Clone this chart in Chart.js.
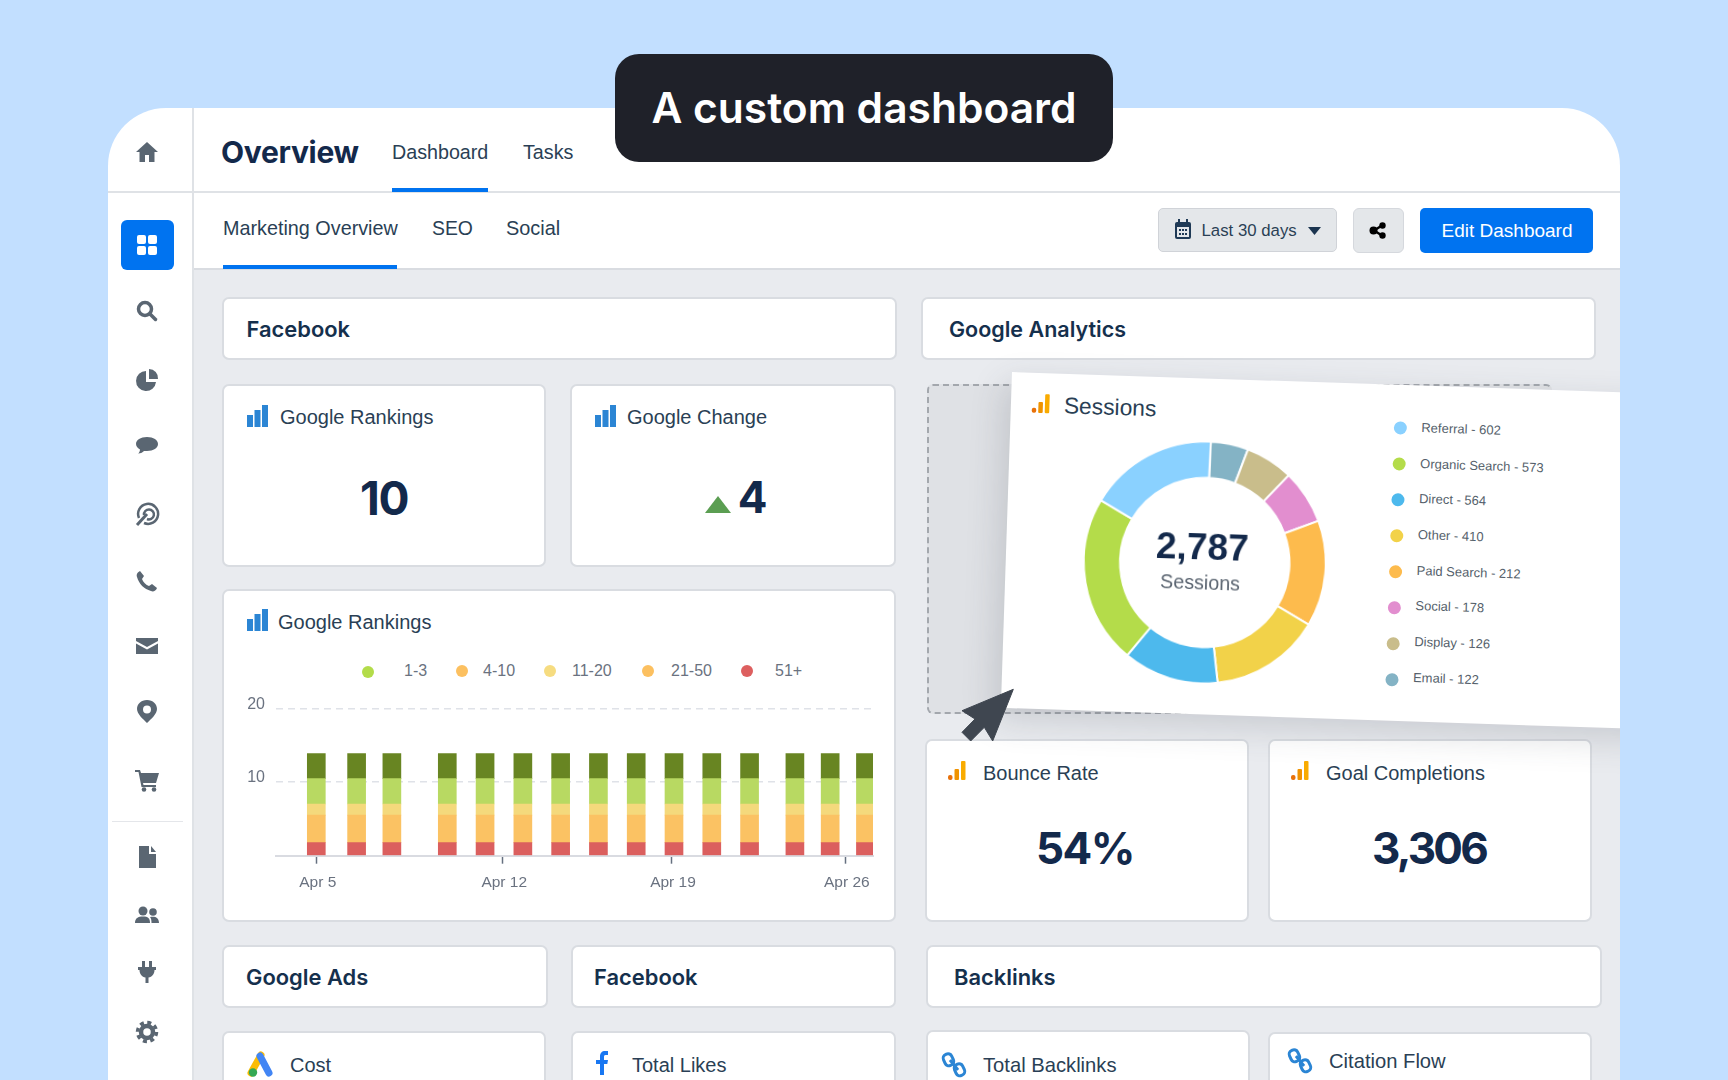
<!DOCTYPE html>
<html>
<head>
<meta charset="utf-8">
<title>A custom dashboard</title>
<script src="https://cdn.jsdelivr.net/npm/chart.js@4"></script>
<style>
  html, body { margin: 0; padding: 0; }
  body { width: 1728px; height: 1080px; overflow: hidden; background: #c2dfff; position: relative; font-family: "Liberation Sans", Arial, sans-serif; color: #15304d; }
  #panel { position: absolute; left: 108px; top: 108px; width: 1512px; height: 990px; background: #fff; border-radius: 58px 58px 0 0; overflow: hidden; }
  #stage { position: absolute; left: -108px; top: -108px; width: 1728px; height: 1080px; }
  .box { position: absolute; box-sizing: border-box; }
  .card { position: absolute; box-sizing: border-box; background: #fff; border: 2px solid #d9dce1; border-radius: 7px; }
  .t { position: absolute; transform: translateY(-50%); white-space: nowrap; }
  .c { position: absolute; transform: translate(-50%, -50%); white-space: nowrap; }
  .sec { font-family: Inter, sans-serif; font-weight: 600; font-size: 21.9px; color: #15304d; }
  .lbl { font-size: 20px; color: #2a3f55; }
  .big { font-family: Inter, sans-serif; font-weight: 700; font-size: 44px; color: #13294b; letter-spacing: -1.5px; }
  svg { position: absolute; overflow: visible; }
  #tilt { position: absolute; left: 1012px; top: 372px; width: 700px; height: 336px; background: #fff; transform-origin: 0 0; transform: rotate(1.9deg); box-shadow: -6px 12px 34px rgba(60, 66, 80, 0.18); }
  .dot { position: absolute; width: 13px; height: 13px; border-radius: 50%; transform: translate(-50%, -50%); }
  .leg { position: absolute; transform: translateY(-50%); white-space: nowrap; font-size: 13px; color: #555f6b; }
  .rleg { position: absolute; transform: translateY(-50%); white-space: nowrap; font-size: 16px; color: #6a7280; }
</style>
</head>
<body>
<div id="panel"><div id="stage">
  <!-- chrome -->
  <div class="box" style="left:194px;top:269px;width:1426px;height:811px;background:#e9ebef"></div>
  <div class="box" style="left:192px;top:108px;width:2px;height:972px;background:#dfe2e6"></div>
  <div class="box" style="left:108px;top:191px;width:1512px;height:2px;background:#dfe2e6"></div>
  <div class="box" style="left:194px;top:268px;width:1426px;height:2px;background:#d9dce1"></div>
  <div class="box" style="left:392px;top:188px;width:96px;height:4px;background:#0073f0"></div>
  <div class="box" style="left:223px;top:265px;width:174px;height:4px;background:#0073f0"></div>
  <div class="box" style="left:112px;top:821px;width:71px;height:1px;background:#e4e6ea"></div>
  <div class="box" style="left:121px;top:220px;width:53px;height:50px;background:#0073f0;border-radius:6px"></div>
  <div id="navIcons"></div>

  <div class="t" style="left:221px;top:152px;font-family:Inter,sans-serif;font-weight:700;font-size:30px;color:#13294b;letter-spacing:-0.3px">Overview</div>
  <div class="t lbl" style="left:392px;top:152px;font-size:19.7px">Dashboard</div>
  <div class="t lbl" style="left:523px;top:152px;font-size:19.7px">Tasks</div>
  <div class="t lbl" style="left:223px;top:228px;font-size:19.8px">Marketing Overview</div>
  <div class="t lbl" style="left:432px;top:228px;font-size:19.4px">SEO</div>
  <div class="t lbl" style="left:506px;top:228px;font-size:19.9px">Social</div>

  <div class="box" style="left:1158px;top:208px;width:179px;height:44px;background:#e4e7ea;border:1px solid #d0d3d8;border-radius:5px"></div>
  <svg style="left:1174px;top:219px" width="18" height="21" viewBox="0 0 18 21"><rect x="1" y="3" width="16" height="17" rx="2" fill="#1f3a56"/><rect x="3" y="8" width="12" height="10" fill="#e4e7ea"/><rect x="4" y="0" width="2" height="5" fill="#1f3a56"/><rect x="12" y="0" width="2" height="5" fill="#1f3a56"/><path d="M5 10h2v2H5zM8 10h2v2H8zM11 10h2v2h-2zM5 14h2v2H5zM8 14h2v2H8zM11 14h2v2h-2z" fill="#1f3a56"/></svg>
  <div class="t" style="left:1201.500px;top:231px;font-size:16.8px;color:#2a3f55">Last 30 days</div>
  <svg style="left:1308px;top:227px" width="13" height="8"><path d="M0 0H13L6.5 8Z" fill="#1b3550"/></svg>
  <div class="box" style="left:1353px;top:208px;width:51px;height:45px;background:#e4e7ea;border:1px solid #d5d8dd;border-radius:6px"></div>
  <svg style="left:1369px;top:222px" width="18" height="17"><path d="M5 8.5L13 3.5M5 8.5L13 13.5" stroke="#000" stroke-width="2.5"/><circle cx="4.5" cy="8.5" r="4" fill="#000"/><circle cx="13.5" cy="3.5" r="3.2" fill="#000"/><circle cx="13.5" cy="13.5" r="3.2" fill="#000"/></svg>
  <div class="box" style="left:1420px;top:208px;width:173px;height:45px;background:#0073f0;border-radius:5px"></div>
  <div class="c" style="left:1507px;top:231px;font-size:19px;color:#fff">Edit Dashboard</div>

  <!-- section headers -->
  <div class="card" style="left:222px;top:297px;width:675px;height:63px"></div>
  <div class="t sec" style="left:246.500px;top:329px">Facebook</div>
  <div class="card" style="left:921px;top:297px;width:675px;height:63px"></div>
  <div class="t sec" style="left:949px;top:329px;font-size:21.500px">Google Analytics</div>

  <!-- stat cards, left -->
  <div class="card" style="left:222px;top:384px;width:324px;height:183px"></div>
  <svg class="bars" style="left:247px;top:405px" width="21" height="22"><rect x="0" y="10" width="6" height="12" fill="#2b85d4"/><rect x="7.5" y="5" width="6" height="17" fill="#2b85d4"/><rect x="15" y="0" width="6" height="22" fill="#2b85d4"/></svg>
  <div class="t lbl" style="left:280px;top:417px">Google Rankings</div>
  <div class="c big" style="left:384px;top:498px;font-size:46px">10</div>
  <div class="card" style="left:570px;top:384px;width:326px;height:183px"></div>
  <svg style="left:595px;top:405px" width="21" height="22"><rect x="0" y="10" width="6" height="12" fill="#2b85d4"/><rect x="7.5" y="5" width="6" height="17" fill="#2b85d4"/><rect x="15" y="0" width="6" height="22" fill="#2b85d4"/></svg>
  <div class="t lbl" style="left:627px;top:417px">Google Change</div>
  <svg style="left:705px;top:496px" width="26" height="17"><path d="M0 17L13 0L26 17Z" fill="#5b9e52"/></svg>
  <div class="c big" style="left:752px;top:497px">4</div>

  <!-- rankings chart card -->
  <div class="card" style="left:222px;top:589px;width:674px;height:333px"></div>
  <svg style="left:247px;top:609px" width="21" height="22"><rect x="0" y="10" width="6" height="12" fill="#2b85d4"/><rect x="7.5" y="5" width="6" height="17" fill="#2b85d4"/><rect x="15" y="0" width="6" height="22" fill="#2b85d4"/></svg>
  <div class="t lbl" style="left:278px;top:622px">Google Rankings</div>
  <div id="rankLegend"></div>
  <canvas id="rankingsChart" width="650" height="200" style="position:absolute;left:236px;top:695px;width:650px;height:200px"></canvas>

  <!-- analytics stat cards -->
  <div class="card" style="left:925px;top:739px;width:324px;height:183px"></div>
  <svg style="left:948px;top:761px" width="18" height="20"><rect x="0" y="14" width="4.5" height="5" rx="2" fill="#e8710a"/><rect x="6.5" y="8" width="4.5" height="11" rx="1" fill="#f09300"/><rect x="13" y="0" width="4.5" height="19" rx="1" fill="#f9ab00"/></svg>
  <div class="t lbl" style="left:983px;top:773px">Bounce Rate</div>
  <div class="c big" style="left:1085px;top:848px">54%</div>
  <div class="card" style="left:1268px;top:739px;width:324px;height:183px"></div>
  <svg style="left:1291px;top:761px" width="18" height="20"><rect x="0" y="14" width="4.5" height="5" rx="2" fill="#e8710a"/><rect x="6.5" y="8" width="4.5" height="11" rx="1" fill="#f09300"/><rect x="13" y="0" width="4.5" height="19" rx="1" fill="#f9ab00"/></svg>
  <div class="t lbl" style="left:1326px;top:773px">Goal Completions</div>
  <div class="c big" style="left:1429px;top:848px;letter-spacing:-2.8px">3,306</div>

  <!-- dashed drop target and tilted card -->
  <div class="box" style="left:927px;top:384px;width:625px;height:330px;background:#dfe1e5;border:2px dashed #a3a7ad;border-radius:6px"></div>
  <div id="tilt">
    <svg style="left:21px;top:21px" width="18" height="20"><rect x="0" y="14" width="4.5" height="5" rx="2" fill="#e8710a"/><rect x="6.5" y="8" width="4.5" height="11" rx="1" fill="#f09300"/><rect x="13" y="0" width="4.5" height="19" rx="1" fill="#f9ab00"/></svg>
    <div class="t" style="left:53px;top:32px;font-size:22.8px;color:#2a3f55">Sessions</div>
    <canvas id="sessionsChart" width="244" height="244" style="position:absolute;left:77px;top:62px;width:244px;height:244px"></canvas>
    <div class="c" style="left:196px;top:169px;font-weight:700;font-size:37px;color:#13294b">2,787</div>
    <div class="c" style="left:195px;top:204px;font-size:19.7px;color:#5a6470">Sessions</div>
    <div id="sessionLegend"></div>
  </div>
  <svg style="left:960px;top:688px" width="56" height="56"><path d="M53.300 1.300L32.700 53L24.300 39.300L10.700 53L2 44.300L15 31L2 22.700Z" fill="#3f4650" stroke="#3f4650" stroke-linejoin="round"/></svg>

  <!-- bottom rows -->
  <div class="card" style="left:222px;top:945px;width:326px;height:63px"></div>
  <div class="t sec" style="left:246px;top:977px">Google Ads</div>
  <div class="card" style="left:571px;top:945px;width:325px;height:63px"></div>
  <div class="t sec" style="left:594px;top:977px">Facebook</div>
  <div class="card" style="left:926px;top:945px;width:676px;height:63px"></div>
  <div class="t sec" style="left:954px;top:977px">Backlinks</div>

  <div class="card" style="left:222px;top:1031px;width:324px;height:80px"></div>
  <svg style="left:248px;top:1053px" width="25" height="24" viewBox="0 0 25 24"><path d="M13 2L3 20" stroke="#fbbc04" stroke-width="7" stroke-linecap="round"/><path d="M12 3L21 20" stroke="#4285f4" stroke-width="7" stroke-linecap="round"/><circle cx="5" cy="19.5" r="4.2" fill="#34a853"/></svg>
  <div class="t lbl" style="left:290px;top:1065px">Cost</div>
  <div class="card" style="left:571px;top:1031px;width:325px;height:80px"></div>
  <svg style="left:595px;top:1051px" width="14" height="24" viewBox="0 0 14 24"><path d="M5 24V13H1V9H5V5.5C5 2 7 0 10 0H13V4H10.5C9.300 4 9 4.700 9 6V9H13L12.300 13H9V24Z" fill="#1877f2"/></svg>
  <div class="t lbl" style="left:632px;top:1065px">Total Likes</div>
  <div class="card" style="left:926px;top:1030px;width:324px;height:80px"></div>
  <svg style="left:943px;top:1052px" width="22" height="26" viewBox="0 0 22 26"><g fill="none" stroke="#2b85d4" stroke-width="3"><rect x="1" y="2" width="9" height="12" rx="4" transform="rotate(-25 5 8)"/><rect x="12" y="12" width="9" height="12" rx="4" transform="rotate(-25 16 18)"/><path d="M7 8L15 18"/></g></svg>
  <div class="t lbl" style="left:983px;top:1065px;font-size:20.2px">Total Backlinks</div>
  <div class="card" style="left:1268px;top:1032px;width:324px;height:80px"></div>
  <svg style="left:1289px;top:1048px" width="22" height="26" viewBox="0 0 22 26"><g fill="none" stroke="#2b85d4" stroke-width="3"><rect x="1" y="2" width="9" height="12" rx="4" transform="rotate(-25 5 8)"/><rect x="12" y="12" width="9" height="12" rx="4" transform="rotate(-25 16 18)"/><path d="M7 8L15 18"/></g></svg>
  <div class="t lbl" style="left:1329px;top:1061px;font-size:20.2px">Citation Flow</div>
</div></div>

<div class="box" style="left:615px;top:54px;width:498px;height:108px;background:#1f2129;border-radius:24px"></div>
<div class="c" style="left:864px;top:107px;font-family:Inter,sans-serif;font-weight:600;font-size:42.5px;color:#fff">A custom dashboard</div>

<script>
const rankingLabels = ["1-3", "4-10", "11-20", "21-50", "51+"];
const rankingDots = ["#b3dc4a", "#fcc060", "#f6dc80", "#fcc060", "#dd5f5f"];
const rankingDays = [5, 6.6, 8, 10.2, 11.7, 13.2, 14.7, 16.2, 17.7, 19.2, 20.7, 22.2, 24, 25.4, 26.8];
const rank1to3 = [3.4, 3.4, 3.4, 3.4, 3.4, 3.4, 3.4, 3.4, 3.4, 3.4, 3.4, 3.4, 3.4, 3.4, 3.4];
const rank4to10 = [3.45, 3.45, 3.45, 3.45, 3.45, 3.45, 3.45, 3.45, 3.45, 3.45, 3.45, 3.45, 3.45, 3.45, 3.45];
const rank11to20 = [1.5, 1.5, 1.5, 1.5, 1.5, 1.5, 1.5, 1.5, 1.5, 1.5, 1.5, 1.5, 1.5, 1.5, 1.5];
const rank21to50 = [3.76, 3.76, 3.76, 3.76, 3.76, 3.76, 3.76, 3.76, 3.76, 3.76, 3.76, 3.76, 3.76, 3.76, 3.76];
const rank51plus = [1.77, 1.77, 1.77, 1.77, 1.77, 1.77, 1.77, 1.77, 1.77, 1.77, 1.77, 1.77, 1.77, 1.77, 1.77];
const dateTicks = [5, 12.4, 19.1, 26];
const dateLabels = ["Apr 5", "Apr 12", "Apr 19", "Apr 26"];

// legend order; counts are the printed numbers, shares are the arc sizes as drawn (degrees)
const sourceLabels = ["Referral", "Organic Search", "Direct", "Other", "Paid Search", "Social", "Display", "Email"];
const sourceCounts = [602, 573, 564, 410, 212, 178, 126, 122];
const sourceColors = ["#8ad1ff", "#b4dc4a", "#4db9ed", "#f2d249", "#fdbb4d", "#e28ecf", "#c9bd8b", "#84b3c5"];
const sliceLabels = ["Email", "Display", "Social", "Paid Search", "Other", "Direct", "Organic Search", "Referral"];
const sliceShares = [18, 23, 26, 51, 53, 46, 81, 62];
const sliceColors = ["#84b3c5", "#c9bd8b", "#e28ecf", "#fdbb4d", "#f2d249", "#4db9ed", "#b4dc4a", "#8ad1ff"];

function barSeries(values) {
  return values.map((v, i) => ({ x: rankingDays[i], y: v }));
}

new Chart(document.getElementById("rankingsChart"), {
  type: "bar",
  data: {
    datasets: [
      { label: "51+", data: barSeries(rank51plus), backgroundColor: "#db5f5e" },
      { label: "21-50", data: barSeries(rank21to50), backgroundColor: "#fbc263" },
      { label: "11-20", data: barSeries(rank11to20), backgroundColor: "#f4d97c" },
      { label: "4-10", data: barSeries(rank4to10), backgroundColor: "#b8d962" },
      { label: "1-3", data: barSeries(rank1to3), backgroundColor: "#688522" }
    ]
  },
  options: {
    responsive: false,
    animation: false,
    barThickness: 18,
    layout: { padding: { top: 13.7, right: 13 } },
    plugins: { legend: { display: false }, tooltip: { enabled: false } },
    scales: {
      x: {
        type: "linear",
        offset: false,
        stacked: true,
        min: 3.4,
        max: 27.1,
        afterBuildTicks: (axis) => { axis.ticks = dateTicks.map((value) => ({ value })); },
        afterFit: (axis) => { axis.height = 39.3; },
        ticks: {
          callback: (value, index) => dateLabels[index],
          autoSkip: false,
          maxRotation: 0,
          padding: 10,
          labelOffset: 1.5,
          color: "#6a7280",
          font: { family: "Liberation Sans", size: 15.5 }
        },
        grid: { offset: false, drawOnChartArea: false, drawTicks: true, tickLength: 8, tickColor: "#667080", tickWidth: 1.5 },
        border: { color: "#d9dbe1", width: 2 }
      },
      y: {
        stacked: true,
        min: 0,
        max: 20,
        // tick padding would otherwise push the plot down from the canvas top
        afterFit: (axis) => { axis.width = 40; axis.paddingTop = 0; axis.paddingBottom = 0; },
        ticks: {
          stepSize: 10,
          callback: (value) => (value === 0 ? "" : value),
          labelOffset: -4.5,
          padding: 11,
          color: "#6a7280",
          font: { family: "Liberation Sans", size: 16 }
        },
        grid: {
          drawTicks: false,
          lineWidth: 1.5,
          color: (ctx) => (ctx.tick.value === 0 ? "transparent" : "#dfe2e8")
        },
        border: { display: false, dash: [7, 5] }
      }
    }
  }
});

new Chart(document.getElementById("sessionsChart"), {
  type: "doughnut",
  data: {
    labels: sliceLabels,
    datasets: [{ data: sliceShares, backgroundColor: sliceColors, borderColor: "#fff", borderWidth: 2 }]
  },
  options: {
    responsive: false,
    animation: false,
    cutout: "70%",
    rotation: 1,
    plugins: { legend: { display: false }, tooltip: { enabled: false } }
  }
});

// html legends, the original spaces these unevenly
const rankDotX = [368, 462, 550, 648, 747];
const rankDotY = [672, 671, 671, 671, 671];
const rankTextX = [404, 483, 572, 671, 775];
document.getElementById("rankLegend").innerHTML = rankingLabels.map((label, i) =>
  `<div class="dot" style="left:${rankDotX[i]}px;top:${rankDotY[i]}px;width:12px;height:12px;background:${rankingDots[i]}"></div>` +
  `<div class="rleg" style="left:${rankTextX[i]}px;top:671px">${label}</div>`).join("");

document.getElementById("sessionLegend").innerHTML = sourceLabels.map((label, i) =>
  `<div class="dot" style="left:390px;top:${43.4 + i * 36}px;background:${sourceColors[i]}"></div>` +
  `<div class="leg" style="left:411px;top:${42 + i * 35.66}px">${label} - ${sourceCounts[i]}</div>`).join("");

const navGlyphs = [
  [152, '<path d="M12 2L1 12H4.500V22H10V15H14V22H19.500V12H23Z"/>'],
  [311, '<g fill="none" stroke="#5a6672" stroke-width="3.500"><circle cx="10" cy="10" r="6.500"/><path d="M15 15L20.500 20.500" stroke-linecap="round"/></g>'],
  [380, '<path d="M11 3A10 10 0 1 0 21 14H11Z"/><path d="M14 1A9 9 0 0 1 23 11H14Z"/>'],
  [445, '<path d="M12 4C5.500 4 1 7 1 11C1 13.500 3 15.500 5 16.500C5 18 4 20 3 20.500C6 20.500 8 19 9 18C10 18 11 18 12 18C18.500 18 23 15 23 11C23 7 18.500 4 12 4Z"/>'],
  [514, '<g fill="none" stroke="#5a6672" stroke-width="2.500"><path d="M4 16A10 10 0 1 1 9 21"/><path d="M9 13A5 5 0 1 1 12 17"/><path d="M2 23L12 12" stroke-width="3"/></g>'],
  [581, '<path d="M5 2L9 7L7 10C8 13 11 16 14 17L17 15L22 19C21 22 18 23 16 22C9 20 4 15 2 8C1 5 3 3 5 2Z"/>'],
  [646, '<path d="M1 4H23V7L12 13L1 7Z"/><path d="M1 9.500L12 15.500L23 9.500V20H1Z"/>'],
  [711, '<path fill-rule="evenodd" d="M12 1C6 1 2 5 2 10C2 15 8 20 12 24C16 20 22 15 22 10C22 5 18 1 12 1ZM12 6.500A4 4 0 1 1 12 14.500A4 4 0 1 1 12 6.500Z"/>'],
  [780, '<path d="M0 2H5L6 5H24L21 15H8L8.500 17H21V19H6.500L3.500 4H0Z"/><circle cx="9" cy="21.500" r="2.300"/><circle cx="19" cy="21.500" r="2.300"/>'],
  [857, '<path d="M4 1H14V9H21V23H4Z"/><path d="M16 1L21 7H16Z"/>'],
  [915, '<circle cx="8" cy="8" r="4.500"/><circle cx="18" cy="9" r="3.800"/><path d="M0 20C0 15 3 13.500 8 13.500C13 13.500 15 15 15 20Z"/><path d="M16.500 20C16.500 17 16 15 15 14C20 13 24 14.500 24 20Z"/>'],
  [972, '<path d="M7 1H10V7H14V1H17V7H21V10H19.500C19.500 14 17 17 13.500 17.500V23H10.500V17.500C7 17 4.500 14 4.500 10H3V7H7Z"/>'],
  [1032, '<g fill="none" stroke="#5a6672"><circle cx="12" cy="12" r="6" stroke-width="4.500"/><circle cx="12" cy="12" r="9.500" stroke-width="3.500" stroke-dasharray="4 3.460"/></g>']
];
let navHtml = navGlyphs.map(([y, glyph]) =>
  `<svg style="left:135px;top:${y - 12}px" width="24" height="24" viewBox="0 0 24 24" fill="#5a6672">${glyph}</svg>`).join("");
navHtml += '<svg style="left:137px;top:235px" width="20" height="20"><rect x="0" y="0" width="9" height="9" rx="2" fill="#fff"/><rect x="11" y="0" width="9" height="9" rx="2" fill="#fff"/><rect x="0" y="11" width="9" height="9" rx="2" fill="#fff"/><rect x="11" y="11" width="9" height="9" rx="2" fill="#fff"/></svg>';
document.getElementById("navIcons").innerHTML = navHtml;
</script>
</body>
</html>
